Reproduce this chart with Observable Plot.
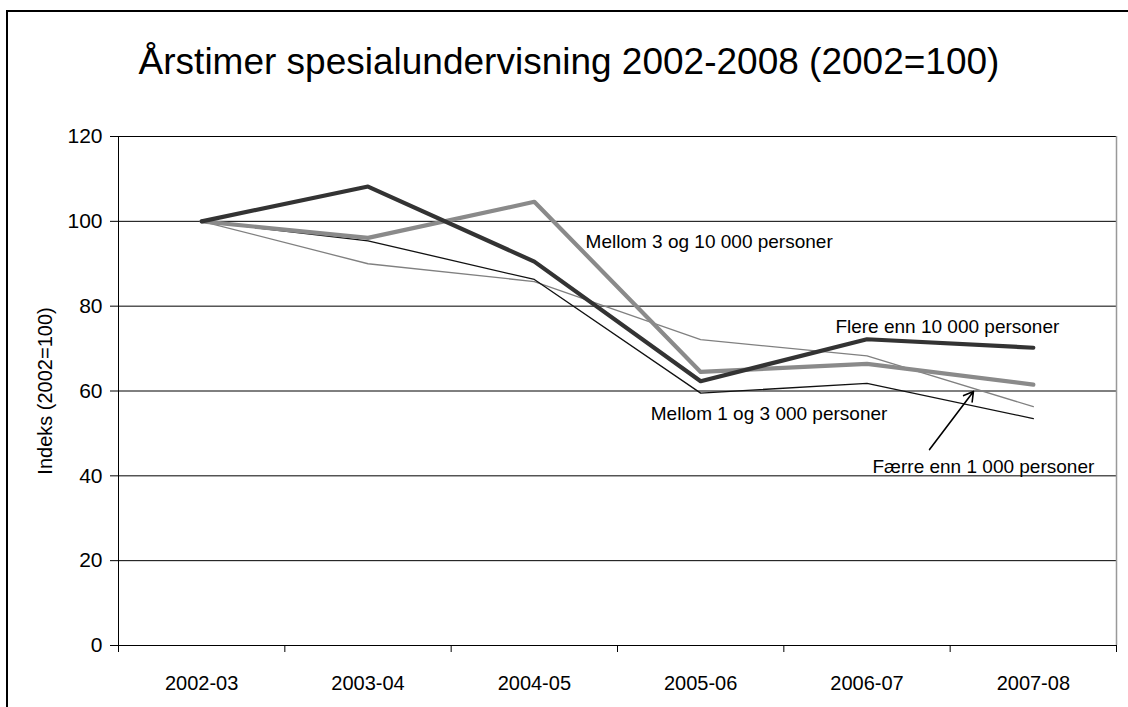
<!DOCTYPE html>
<html>
<head>
<meta charset="utf-8">
<script src="https://cdn.jsdelivr.net/npm/d3@7"></script>
<script src="https://cdn.jsdelivr.net/npm/@observablehq/plot@0.6"></script>
<style>
  html, body { margin: 0; padding: 0; background: #fff; overflow: hidden; width: 1128px; height: 707px; }
  body { position: relative; font-family: "Liberation Sans", Arial, sans-serif; }
  .frame { position: absolute; left: 6px; top: 10px; width: 1200px; height: 800px; border-left: 2px solid #000; border-top: 2px solid #000; pointer-events: none; }
  .title-wrap { position: relative; height: 110px; width: 1128px; }
  .title { position: absolute; left: 5px; top: 43px; width: 1128px; text-align: center; font-size: 37px; line-height: 37px; color: #000; white-space: nowrap; }
  #chart svg { display: block; }
</style>
</head>
<body>
<div class="frame"></div>
<div class="title-wrap"><div class="title">Årstimer spesialundervisning 2002-2008 (2002=100)</div></div>
<div id="chart"></div>
<script>
// ---- data ----
const categories = ["2002-03", "2003-04", "2004-05", "2005-06", "2006-07", "2007-08"];
const flereEnn10000 = [100, 108.2, 90.5, 62.3, 72.2, 70.2];
const mellom3og10000 = [100, 96.1, 104.6, 64.5, 66.4, 61.5];
const mellom1og3000 = [100, 95.4, 86.3, 59.5, 61.8, 53.5];
const faerreEnn1000 = [100, 90.0, 85.8, 72.1, 68.3, 56.3];
const yTicks = [0, 20, 40, 60, 80, 100, 120];
const seriesNames = ["Færre enn 1 000 personer", "Mellom 1 og 3 000 personer", "Mellom 3 og 10 000 personer", "Flere enn 10 000 personer"];
const yLabel = "Indeks (2002=100)";

const rows = (values) => values.map((v, i) => ({x: i + 0.5, y: v, cat: categories[i]}));
const boundaries = d3.range(categories.length + 1);
const font = "'Liberation Sans', Arial, sans-serif";

const chart = Plot.plot({
  width: 1128,
  height: 597,
  marginTop: 26,
  marginLeft: 118,
  marginRight: 12,
  marginBottom: 62,
  style: {fontFamily: font, fontSize: "20px", color: "#000", background: "transparent", overflow: "visible"},
  x: {domain: [0, categories.length], ticks: boundaries, tickFormat: () => "", tickSize: 7, label: null},
  y: {domain: [0, 120], ticks: yTicks, tickFormat: () => "", tickSize: 8, label: null},
  marks: [
    Plot.ruleY(yTicks, {stroke: "#000", strokeWidth: 1}),
    Plot.ruleX([0], {stroke: "#000", strokeWidth: 1}),
    Plot.ruleX([categories.length], {stroke: "#999", strokeWidth: 1.5}),
    Plot.line(rows(faerreEnn1000), {x: "x", y: "y", stroke: "#808080", strokeWidth: 1.3}),
    Plot.line(rows(mellom1og3000), {x: "x", y: "y", stroke: "#111", strokeWidth: 1.3}),
    Plot.line(rows(mellom3og10000), {x: "x", y: "y", stroke: "#8a8a8a", strokeWidth: 4.2}),
    Plot.line(rows(flereEnn10000), {x: "x", y: "y", stroke: "#333", strokeWidth: 4.2}),
    Plot.text(yTicks, {x: 0, y: d => d, dx: -16, text: d => String(d), textAnchor: "end", fontSize: 21, fill: "#000"}),
    Plot.text(categories, {x: (d, i) => i + 0.5, y: 0, dy: 38, text: d => d, fontSize: 20, fill: "#000"}),
    Plot.text([yLabel], {frameAnchor: "left", textAnchor: "middle", dx: -73, rotate: -90, text: d => d, fontSize: 20, fill: "#000"}),
    Plot.text([seriesNames[2]], {x: 2.808, y: 95.2, text: d => d, textAnchor: "start", fontSize: 19, fill: "#000"}),
    Plot.text([seriesNames[3]], {x: 4.31, y: 75.0, text: d => d, textAnchor: "start", fontSize: 19, fill: "#000"}),
    Plot.text([seriesNames[1]], {x: 3.2, y: 54.7, text: d => d, textAnchor: "start", fontSize: 19, fill: "#000"}),
    Plot.text([seriesNames[0]], {x: 4.533, y: 42.2, text: d => d, textAnchor: "start", fontSize: 19, fill: "#000"}),
    Plot.arrow([seriesNames[0]], {x1: 4.876, y1: 46.2, x2: 5.14, y2: 59.9, stroke: "#000", strokeWidth: 1.6, headLength: 10})
  ]
});
document.getElementById("chart").appendChild(chart);
</script>
</body>
</html>
